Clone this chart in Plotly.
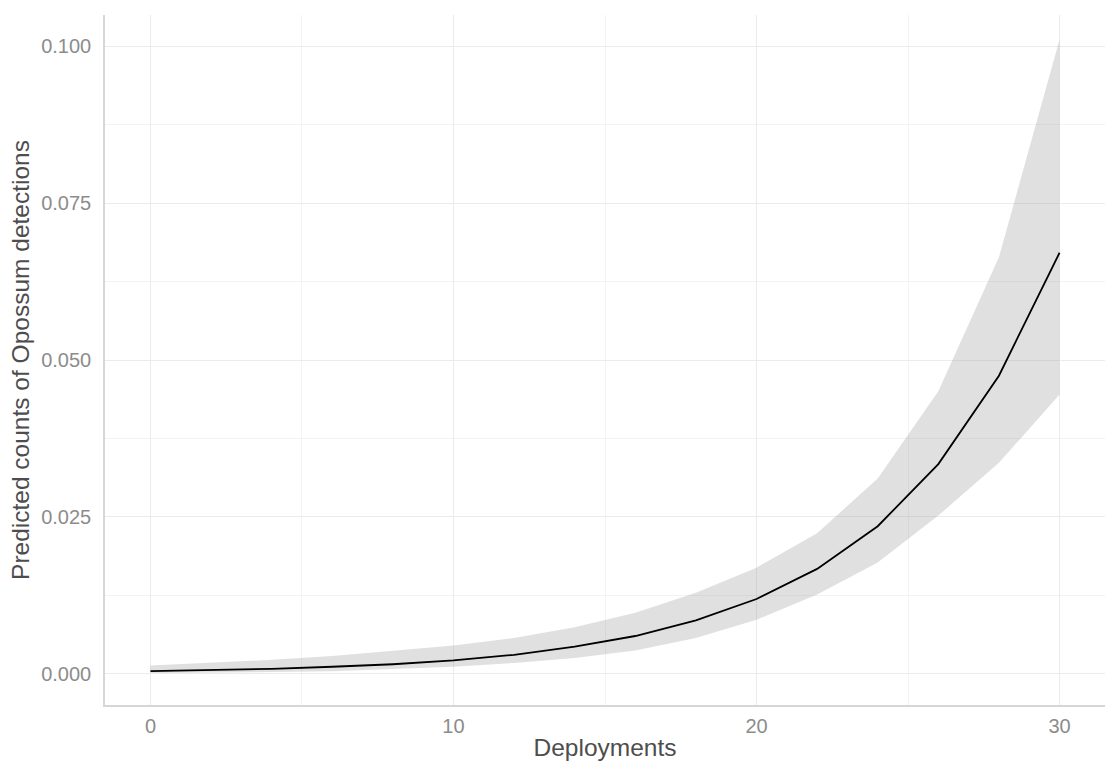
import plotly.graph_objects as go

deployments = [0, 2, 4, 6, 8, 10, 12, 14, 16, 18, 20, 22, 24, 26, 28, 30]
predicted = [0.0004, 0.00055, 0.00077, 0.0011, 0.0015, 0.0021, 0.0030, 0.0043,
             0.0060, 0.0085, 0.0119, 0.0167, 0.0235, 0.0334, 0.0475, 0.0671]
upper = [0.0013, 0.0017, 0.0022, 0.0028, 0.0036, 0.0045, 0.0057, 0.0074,
         0.0097, 0.0129, 0.0169, 0.0224, 0.0311, 0.0450, 0.0664, 0.1011]
lower = [0.0001, 0.00017, 0.00026, 0.0004, 0.0007, 0.0011, 0.0017, 0.0025,
         0.0037, 0.0057, 0.0086, 0.0126, 0.0177, 0.0252, 0.0336, 0.0445]

x_ticks = [0, 10, 20, 30]
y_ticks = [0.0, 0.025, 0.05, 0.075, 0.1]
y_tick_labels = ["0.000", "0.025", "0.050", "0.075", "0.100"]

fig = go.Figure()
fig.add_trace(go.Scatter(x=deployments + deployments[::-1], y=upper + lower[::-1],
                         fill="toself", fillcolor="rgba(153,153,153,0.3)",
                         line=dict(width=0), mode="lines", hoverinfo="skip",
                         showlegend=False))
fig.add_trace(go.Scatter(x=deployments, y=predicted, mode="lines",
                         line=dict(color="black", width=1.8), showlegend=False))

font = "Liberation Sans, Arial, sans-serif"
fig.update_layout(
    width=1107, height=767,
    margin=dict(l=105, r=2, t=15, b=62),
    plot_bgcolor="white", paper_bgcolor="white",
    font=dict(family=font),
    xaxis=dict(range=[-1.5, 31.5], tickvals=x_ticks, showgrid=True,
               gridcolor="#ebebeb", gridwidth=1.2, zeroline=False,
               minor=dict(tickvals=[5, 15, 25], showgrid=True,
                          gridcolor="#f3f3f3", gridwidth=1),
               showline=True, linecolor="#d6d6d6", linewidth=1.5,
               ticks="outside", ticklen=2, tickcolor="rgba(0,0,0,0)",
               tickfont=dict(size=20, color="#8c8c8c"),
               title=dict(text="Deployments", font=dict(size=24.5, color="#4d4d4d"),
                          standoff=3)),
    yaxis=dict(range=[-0.005, 0.105], tickvals=y_ticks, ticktext=y_tick_labels,
               showgrid=True, gridcolor="#ebebeb", gridwidth=1.2, zeroline=False,
               minor=dict(tickvals=[0.0125, 0.0375, 0.0625, 0.0875], showgrid=True,
                          gridcolor="#f3f3f3", gridwidth=1),
               showline=True, linecolor="#d6d6d6", linewidth=1.5,
               ticks="outside", ticklen=8, tickcolor="rgba(0,0,0,0)",
               tickfont=dict(size=20, color="#8c8c8c"),
               title=dict(text="Predicted counts of Opossum detections",
                          font=dict(size=24.5, color="#4d4d4d"), standoff=5)),
)

fig.write_html("out.html")
